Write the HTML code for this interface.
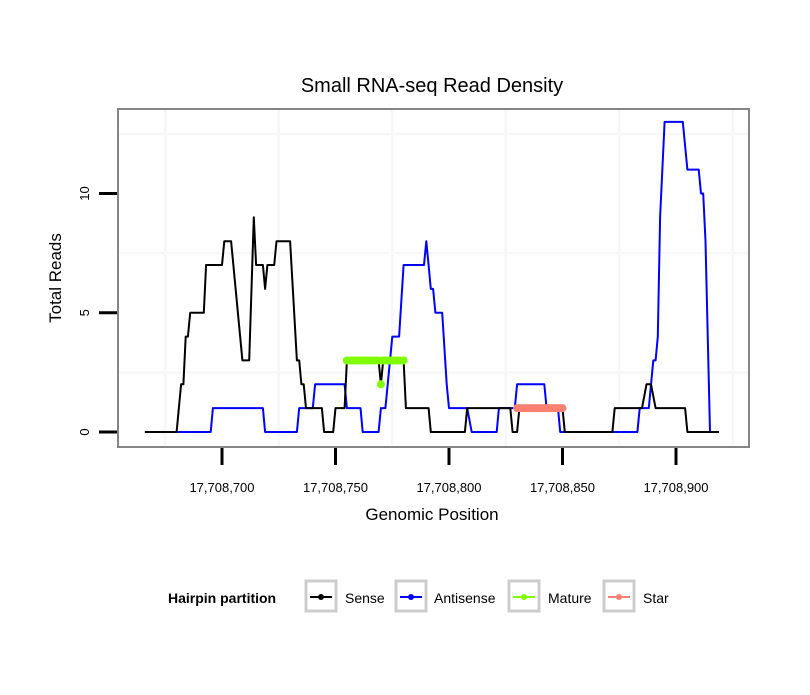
<!DOCTYPE html>
<html><head><meta charset="utf-8"><style>
body{margin:0;background:#fff;}
svg text{font-family:"Liberation Sans",sans-serif;}
</style></head><body>
<svg id="chart" width="810" height="690" viewBox="0 0 810 690" xmlns="http://www.w3.org/2000/svg">
<rect width="810" height="690" fill="#fff"/>
<text x="432" y="92" font-size="20" text-anchor="middle">Small RNA-seq Read Density</text>
<g id="grid"></g>
<g id="series"></g>
<rect x="118" y="109" width="631" height="338" fill="none" stroke="#858585" stroke-width="2"/>
<g id="axes"></g>
<text x="432" y="520" font-size="17" text-anchor="middle">Genomic Position</text>
<text transform="translate(61,278) rotate(-90)" font-size="17" text-anchor="middle">Total Reads</text>
<g>
<text x="168" y="603" font-size="14" font-weight="bold">Hairpin partition</text>
<g><rect x="306" y="581" width="30" height="30" fill="#fff" stroke="#cccccc" stroke-width="3"/><line x1="310" y1="597" x2="332" y2="597" stroke="#000" stroke-width="2"/><circle cx="321" cy="597" r="3" fill="#000"/><text x="345" y="603" font-size="14">Sense</text></g>
<g><rect x="396" y="581" width="30" height="30" fill="#fff" stroke="#cccccc" stroke-width="3"/><line x1="400" y1="597" x2="422" y2="597" stroke="#0000ff" stroke-width="2"/><circle cx="411" cy="597" r="3" fill="#0000ff"/><text x="434" y="603" font-size="14">Antisense</text></g>
<g><rect x="509" y="581" width="30" height="30" fill="#fff" stroke="#cccccc" stroke-width="3"/><line x1="513" y1="597" x2="535" y2="597" stroke="#7fff00" stroke-width="2"/><circle cx="524" cy="597" r="3" fill="#7fff00"/><text x="548" y="603" font-size="14">Mature</text></g>
<g><rect x="604" y="581" width="30" height="30" fill="#fff" stroke="#cccccc" stroke-width="3"/><line x1="608" y1="597" x2="630" y2="597" stroke="#fa8072" stroke-width="2"/><circle cx="619" cy="597" r="3" fill="#fa8072"/><text x="643" y="603" font-size="14">Star</text></g>
</g>
</svg>
<script>
// offsets relative to 17,708,700
const sensePos = [-34,-20,-18,-17,-16,-15,-14,-8,-7,0,1,4,9,12,14,15,18,19,20,23,24,30,33,34,35,36,37,44,45,49,50,54,55,69,70,71,80,81,91,92,107,108,127,128,130,131,150,151,172,173,185,187,189,191,204,205,219];
const senseVal = [0,0,2,2,4,4,5,5,7,7,8,8,3,3,9,7,7,6,7,7,8,8,3,3,2,2,1,1,0,0,1,1,3,3,2,3,3,1,1,0,0,1,1,0,0,1,1,0,0,1,1,2,2,1,1,0,0];
const antiPos = [-20,-5,-4,18,19,33,34,40,41,54,55,61,62,69,70,72,75,78,80,89,90,91,92,93,94,97,99,100,108,110,121,122,129,130,142,143,148,149,183,184,188,190,191,192,193,195,203,205,210,211,212,213,215];
const antiVal = [0,0,1,1,0,0,1,1,2,2,1,1,0,0,1,1,4,4,7,7,8,7,6,6,5,5,2,1,1,0,0,1,1,2,2,1,1,0,0,1,1,3,3,4,9,13,13,11,11,10,10,8,0];
const maturePos = [55,56,57,58,59,60,61,62,63,64,65,66,67,68,69,70,71,72,73,74,75,76,77,78,79,80];
const matureVal = [3,3,3,3,3,3,3,3,3,3,3,3,3,3,3,2,3,3,3,3,3,3,3,3,3,3];
const starPos = [130,131,132,133,134,135,136,137,138,139,140,141,142,143,144,145,146,147,148,149,150];
const starVal = [1,1,1,1,1,1,1,1,1,1,1,1,1,1,1,1,1,1,1,1,1];
const xTicks = [0,50,100,150,200];
const xTickLabels = ["17,708,700","17,708,750","17,708,800","17,708,850","17,708,900"];
const yTicks = [0,5,10];
const yTickLabels = ["0","5","10"];
const xGrid = [-25,25,75,125,175,225];
const yGrid = [2.5,7.5,12.5];

const NS="http://www.w3.org/2000/svg";
const X = p => 222 + p*2.27;
const Y = v => 432 - v*23.85;
function mk(tag, attrs, parent){const e=document.createElementNS(NS,tag);for(const k in attrs)e.setAttribute(k,attrs[k]);parent.appendChild(e);return e;}
const grid=document.getElementById('grid'), ser=document.getElementById('series'), axes=document.getElementById('axes');
xGrid.forEach(p=>{const l=mk('line',{x1:X(p),x2:X(p),y1:110,y2:446,stroke:'#f7f7f7','stroke-width':2.5},grid);

});
yGrid.forEach(v=>{const l=mk('line',{x1:119,x2:748,y1:Y(v),y2:Y(v),stroke:'#f7f7f7','stroke-width':2.5},grid);

});
function line(pos,val,color,w,name){
  const d=pos.map((p,i)=>(i?'L':'M')+X(p).toFixed(1)+','+Y(val[i]).toFixed(1)).join('');
  const e=mk('path',{d:d,fill:'none',stroke:color,'stroke-width':w,'stroke-linejoin':'round'},ser);
  
  
}
line(antiPos,antiVal,'#0000ff',2,'antisense-line');
line(sensePos,senseVal,'#000',2,'sense-line');
function pts(pos,val,color,name){
  pos.forEach((p,i)=>{const c=mk('circle',{cx:X(p),cy:Y(val[i]),r:4,fill:color},ser);
  
  });
}
pts(maturePos,matureVal,'#7fff00','mature');
pts(starPos,starVal,'#fa8072','star');
xTicks.forEach((p,i)=>{
  const t=mk('line',{x1:X(p),x2:X(p),y1:448,y2:465,stroke:'#000','stroke-width':3},axes);
  
  
  const tx=mk('text',{x:X(p),y:492,'font-size':13,'text-anchor':'middle'},axes);
  tx.textContent=xTickLabels[i];
  
  
});
yTicks.forEach((v,i)=>{
  const t=mk('line',{x1:99,x2:117,y1:Y(v),y2:Y(v),stroke:'#000','stroke-width':3},axes);
  
  
  const tx=mk('text',{transform:`translate(89,${Y(v)}) rotate(-90)`,'font-size':13,'text-anchor':'middle'},axes);
  tx.textContent=yTickLabels[i];
  
  
});
</script>
</body></html>
